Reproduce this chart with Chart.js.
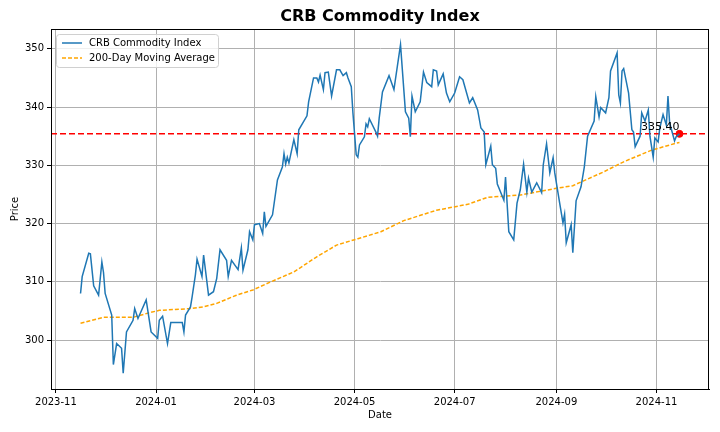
<!DOCTYPE html>
<html>
<head>
<meta charset="utf-8">
<script src="https://cdn.jsdelivr.net/npm/chart.js@4"></script>
<style>
  body { margin: 0; background: #fff; }
  #wrap { width: 720px; height: 432px; }
</style>
</head>
<body>
<div id="wrap"><canvas id="crbChart"></canvas></div>
<script>
// CRB index
const priceDates = [
  '2023-11-16','2023-11-17','2023-11-21','2023-11-22','2023-11-24','2023-11-27','2023-11-29','2023-11-30',
  '2023-12-01','2023-12-05','2023-12-06','2023-12-08','2023-12-11','2023-12-12','2023-12-14','2023-12-18',
  '2023-12-19','2023-12-21','2023-12-26','2023-12-29','2024-01-02','2024-01-03','2024-01-05','2024-01-08',
  '2024-01-10','2024-01-12','2024-01-17','2024-01-18','2024-01-19','2024-01-22','2024-01-23','2024-01-25',
  '2024-01-26','2024-01-29','2024-01-30','2024-02-02','2024-02-05','2024-02-07','2024-02-09','2024-02-13',
  '2024-02-14','2024-02-16','2024-02-20','2024-02-22','2024-02-23','2024-02-26','2024-02-27','2024-02-29',
  '2024-03-01','2024-03-04','2024-03-06','2024-03-07','2024-03-08','2024-03-12','2024-03-15','2024-03-18',
  '2024-03-19','2024-03-20','2024-03-21','2024-03-22','2024-03-25','2024-03-27','2024-03-28','2024-04-02',
  '2024-04-03','2024-04-06','2024-04-08','2024-04-09','2024-04-10','2024-04-12','2024-04-13','2024-04-15',
  '2024-04-17','2024-04-20','2024-04-22','2024-04-24','2024-04-26','2024-04-27','2024-04-29','2024-04-30',
  '2024-05-02','2024-05-03','2024-05-04','2024-05-07','2024-05-08','2024-05-09','2024-05-10','2024-05-14',
  '2024-05-15','2024-05-16','2024-05-18','2024-05-22','2024-05-25','2024-05-29','2024-06-01','2024-06-03',
  '2024-06-04','2024-06-05','2024-06-07','2024-06-10','2024-06-12','2024-06-14','2024-06-17','2024-06-18',
  '2024-06-20','2024-06-21','2024-06-24','2024-06-26','2024-06-28','2024-07-01','2024-07-04','2024-07-06',
  '2024-07-10','2024-07-12','2024-07-15','2024-07-17','2024-07-19','2024-07-20','2024-07-23','2024-07-24',
  '2024-07-26','2024-07-27','2024-07-31','2024-08-01','2024-08-03','2024-08-06','2024-08-08','2024-08-10',
  '2024-08-12','2024-08-14','2024-08-15','2024-08-17','2024-08-20','2024-08-23','2024-08-24','2024-08-26',
  '2024-08-28','2024-08-30','2024-08-31','2024-09-03','2024-09-05','2024-09-06','2024-09-07','2024-09-10',
  '2024-09-11','2024-09-13','2024-09-16','2024-09-18','2024-09-20','2024-09-24','2024-09-25','2024-09-27',
  '2024-09-28','2024-10-01','2024-10-03','2024-10-04','2024-10-08','2024-10-09','2024-10-10','2024-10-11',
  '2024-10-12','2024-10-15','2024-10-17','2024-10-18','2024-10-19','2024-10-22','2024-10-23','2024-10-25',
  '2024-10-27','2024-10-28','2024-10-30','2024-10-31','2024-11-02','2024-11-03','2024-11-05','2024-11-07',
  '2024-11-08','2024-11-09','2024-11-12','2024-11-13','2024-11-15'
];
const priceValues = [
  308.0, 310.9, 314.9, 314.8, 309.3, 307.7, 313.4, 311.6,
  308.0, 304.3, 295.8, 299.4, 298.6, 294.3, 301.4, 303.4,
  305.4, 303.7, 306.9, 301.4, 300.3, 303.4, 304.1, 299.4,
  303.0, 303.0, 303.0, 301.4, 304.3, 305.7, 307.4, 311.2,
  313.9, 310.9, 314.6, 307.7, 308.3, 310.6, 315.5, 313.7,
  310.9, 313.7, 312.1, 315.8, 312.0, 315.5, 318.6, 317.2,
  319.8, 320.0, 318.3, 322.0, 319.5, 321.5, 327.5, 329.7,
  332.0, 330.2, 331.4, 330.4, 334.4, 332.0, 336.1, 338.5,
  340.9, 345.0, 345.0, 344.3, 345.5, 343.0, 345.9, 346.0,
  341.9, 346.4, 346.4, 345.4, 345.9, 345.0, 343.5, 339.0,
  331.8, 331.4, 333.5, 334.9, 337.1, 336.6, 338.0, 335.7,
  335.0, 338.1, 342.6, 345.4, 343.0, 350.7, 339.2, 338.1,
  334.9, 341.9, 339.2, 340.9, 346.0, 344.2, 343.5, 346.4,
  346.2, 343.8, 345.7, 342.4, 340.9, 342.4, 345.2, 344.7,
  340.7, 341.6, 339.5, 336.4, 335.7, 330.1, 333.3, 330.1,
  329.5, 326.8, 324.0, 328.0, 318.6, 317.2, 323.5, 325.8,
  330.2, 325.4, 327.8, 325.4, 327.0, 325.3, 330.1, 333.7,
  328.7, 331.3, 328.7, 323.5, 320.1, 321.6, 316.7, 319.8,
  315.0, 323.9, 326.3, 329.7, 335.0, 337.6, 341.8, 338.3,
  339.9, 339.0, 341.6, 346.2, 349.3, 342.1, 340.7, 346.2,
  346.6, 342.4, 336.1, 335.7, 333.2, 335.0, 339.0, 337.6,
  339.5, 335.0, 331.4, 334.7, 334.0, 336.4, 338.7, 336.9,
  341.9, 337.3, 334.2, 334.9, 335.4
];

// 200-day moving average
const maDates = [
  '2023-11-16','2023-11-30','2023-12-18','2023-12-28','2024-01-03','2024-01-22','2024-01-30','2024-02-07',
  '2024-02-19','2024-02-29','2024-03-11','2024-03-25','2024-04-08','2024-04-20','2024-05-03','2024-05-17',
  '2024-05-31','2024-06-20','2024-07-09','2024-07-21','2024-08-10','2024-09-02','2024-09-11','2024-09-30',
  '2024-10-12','2024-10-29','2024-11-13','2024-11-15'
];
const maValues = [
  302.9, 303.9, 303.9, 304.7, 305.1, 305.4, 305.7, 306.3,
  307.7, 308.6, 310.0, 311.7, 314.3, 316.3, 317.4, 318.6,
  320.5, 322.3, 323.3, 324.5, 324.9, 326.1, 326.5, 328.9,
  330.6, 332.6, 333.8, 333.9
];

const lastPrice = 335.40;
const xTickDates = ['2023-11-01','2024-01-01','2024-03-01','2024-05-01','2024-07-01','2024-09-01','2024-11-01'];
const yTickValues = [300, 310, 320, 330, 340, 350];
const xMinDate = '2023-10-29';
const xMaxDate = '2024-12-03';

const t = s => Date.parse(s + 'T00:00:00Z');
const fmtMonth = v => {
    const d = new Date(v);
    return d.getUTCFullYear() + '-' + String(d.getUTCMonth() + 1).padStart(2, '0');
};

const FONT = 'DejaVu Sans';

const overlayPlugin = {
    id: 'overlay',
    afterDraw(chart) {
        const { ctx, chartArea, scales } = chart;
        ctx.save();
        // frame (top and right spines)
        ctx.strokeStyle = '#000';
        ctx.lineWidth = 1;
        ctx.strokeRect(chartArea.left + 0.5, chartArea.top + 0.5, chartArea.right - chartArea.left - 1, chartArea.bottom - chartArea.top);

        // title
        ctx.fillStyle = '#000';
        ctx.font = 'bold 16px "' + FONT + '"';
        ctx.textAlign = 'center';
        ctx.textBaseline = 'middle';
        ctx.fillText('CRB Commodity Index', (chartArea.left + chartArea.right) / 2, 17);

        // axis titles
        ctx.font = '10px "' + FONT + '"';
        ctx.fillText('Date', (chartArea.left + chartArea.right) / 2, 415);
        ctx.save();
        ctx.translate(15, (chartArea.top + chartArea.bottom) / 2);
        ctx.rotate(-Math.PI / 2);
        ctx.fillText('Price', 0, 0);
        ctx.restore();

        // last value label
        ctx.font = '11px "' + FONT + '"';
        ctx.textAlign = 'right';
        ctx.textBaseline = 'bottom';
        ctx.fillText(lastPrice.toFixed(2), scales.x.getPixelForValue(t(priceDates[priceDates.length - 1])), scales.y.getPixelForValue(lastPrice) - 1);

        // legend box
        const lx = chartArea.left + 5, ly = chartArea.top + 5;
        ctx.fillStyle = 'rgba(255,255,255,0.8)';
        ctx.strokeStyle = '#d0d0d0';
        ctx.lineWidth = 1;
        ctx.beginPath();
        ctx.roundRect(lx + 0.5, ly + 0.5, 162, 33, 3);
        ctx.fill();
        ctx.stroke();
        ctx.font = '10px "' + FONT + '"';
        ctx.textAlign = 'left';
        ctx.textBaseline = 'middle';
        ctx.lineWidth = 1.5;
        ctx.strokeStyle = '#1f77b4';
        ctx.beginPath(); ctx.moveTo(lx + 6, ly + 9); ctx.lineTo(lx + 26, ly + 9); ctx.stroke();
        ctx.strokeStyle = 'orange';
        ctx.setLineDash([4, 2]);
        ctx.beginPath(); ctx.moveTo(lx + 6, ly + 24); ctx.lineTo(lx + 26, ly + 24); ctx.stroke();
        ctx.setLineDash([]);
        ctx.fillStyle = '#000';
        ctx.fillText('CRB Commodity Index', lx + 33, ly + 9);
        ctx.fillText('200-Day Moving Average', lx + 33, ly + 24);
        ctx.restore();
    }
};

new Chart(document.getElementById('crbChart'), {
    type: 'line',
    data: {
        datasets: [
            {
                label: 'CRB Commodity Index',
                data: priceDates.map((d, i) => ({ x: t(d), y: priceValues[i] })),
                borderColor: '#1f77b4',
                borderWidth: 1.5,
                pointRadius: 0,
                tension: 0
            },
            {
                label: '200-Day Moving Average',
                data: maDates.map((d, i) => ({ x: t(d), y: maValues[i] })),
                borderColor: 'orange',
                borderWidth: 1.5,
                borderDash: [4, 2],
                pointRadius: 0,
                tension: 0
            },
            {
                label: 'Last',
                data: [{ x: t(xMinDate), y: lastPrice }, { x: t(xMaxDate), y: lastPrice }],
                borderColor: '#ff0000',
                borderWidth: 1.5,
                borderDash: [6, 3],
                pointRadius: 0
            },
            {
                label: 'Last point',
                data: [{ x: t(priceDates[priceDates.length - 1]), y: lastPrice }],
                showLine: false,
                pointRadius: 3.5,
                pointBackgroundColor: '#ff0000',
                pointBorderColor: '#ff0000'
            }
        ]
    },
    options: {
        responsive: true,
        maintainAspectRatio: false,
        animation: false,
        layout: { padding: { top: 29, right: 11, left: 0, bottom: 0 } },
        plugins: {
            legend: { display: false },
            tooltip: { enabled: false }
        },
        scales: {
            x: {
                type: 'linear',
                min: t(xMinDate),
                max: t(xMaxDate),
                afterBuildTicks: axis => { axis.ticks = xTickDates.map(d => ({ value: t(d) })); },
                afterFit: axis => { axis.height = 43; },
                ticks: {
                    callback: v => fmtMonth(v),
                    color: '#000',
                    maxRotation: 0,
                    font: { family: FONT, size: 10 }
                },
                grid: { color: '#b0b0b0', tickColor: '#000', tickLength: 4 },
                border: { color: '#000' }
            },
            y: {
                min: 291.6,
                max: 353.4,
                afterBuildTicks: axis => { axis.ticks = yTickValues.map(v => ({ value: v })); },
                afterFit: axis => { axis.width = 51; },
                ticks: {
                    color: '#000',
                    font: { family: FONT, size: 10 }
                },
                grid: { color: '#b0b0b0', tickColor: '#000', tickLength: 4 },
                border: { color: '#000' }
            }
        }
    },
    plugins: [overlayPlugin]
});
</script>
</body>
</html>
